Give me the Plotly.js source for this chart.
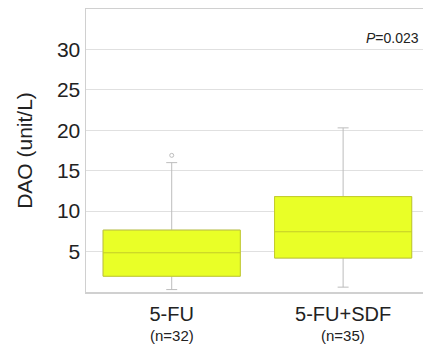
<!DOCTYPE html>
<html><head><meta charset="utf-8">
<script src="https://cdn.plot.ly/plotly-3.0.1.min.js"></script>
<style>html,body{margin:0;padding:0;background:#fff;}#c{width:423px;height:347px;}</style>
</head><body><div id="c"></div>
<script>
var groups = ['5-FU', '5-FU+SDF'];
var nLabels = ['(n=32)', '(n=35)'];
var lowerWhisker = [0.3, 0.6];
var q1 = [1.95, 4.2];
var median = [4.85, 7.45];
var q3 = [7.65, 11.8];
var upperWhisker = [16.0, 20.3];
var outlierGroup = ['5-FU'];
var outlierValue = [16.9];
var yTicks = [5, 10, 15, 20, 25, 30];

var whiskers = {
  type: 'box', x: groups, q1: q1, median: median, q3: q3,
  lowerfence: lowerWhisker, upperfence: upperWhisker,
  boxpoints: false, width: 0.8, whiskerwidth: 0.08,
  fillcolor: 'rgba(0,0,0,0)', line: {color: '#bdbdbd', width: 1},
  hoverinfo: 'skip', showlegend: false
};
var boxes = {
  type: 'box', x: groups, q1: q1, median: median, q3: q3,
  lowerfence: q1, upperfence: q3,
  boxpoints: false, width: 0.8, whiskerwidth: 0,
  fillcolor: '#e9ff27', line: {color: '#c3cc2a', width: 1},
  showlegend: false
};
var outliers = {
  type: 'scatter', mode: 'markers', x: outlierGroup, y: outlierValue,
  marker: {symbol: 'circle-open', size: 4, color: '#bdbdbd', line: {width: 1}},
  showlegend: false
};
var nAnnots = groups.map(function(g, i){
  return {xref: 'x', yref: 'paper', x: g, y: -0.152, xanchor: 'center', yanchor: 'middle',
    text: nLabels[i], showarrow: false, font: {size: 15, color: '#222'}};
});
var layout = {
  width: 423, height: 347,
  margin: {l: 86, r: 0, t: 9, b: 55},
  paper_bgcolor: '#fff', plot_bgcolor: '#fff',
  boxmode: 'overlay',
  font: {family: 'Liberation Sans, Arial, sans-serif', color: '#222'},
  xaxis: {
    type: 'category', range: [-0.5, 1.466],
    tickvals: groups, ticktext: groups,
    tickfont: {size: 20}, ticks: '', showgrid: false, ticklabelstandoff: 3,
    showline: true, linecolor: '#d0d0d0', linewidth: 1.5, mirror: true,
    zeroline: false
  },
  yaxis: {
    range: [0, 35], tickvals: yTicks, tickfont: {size: 21},
    ticks: '', ticklen: 0,
    showgrid: true, gridcolor: '#e0e0e0', gridwidth: 1,
    showline: true, linecolor: '#d0d0d0', linewidth: 1.5,
    zeroline: false,
    title: {text: 'DAO (unit/L)', font: {size: 21}, standoff: 18}
  },
  annotations: [{
    xref: 'paper', yref: 'paper', x: 0.995, y: 0.897, xanchor: 'right', yanchor: 'middle',
    text: '<i>P</i>=0.023', showarrow: false, font: {size: 14, color: '#222'}
  }].concat(nAnnots)
};
Plotly.newPlot('c', [whiskers, boxes, outliers], layout, {displayModeBar: false, staticPlot: true});
</script>
</body></html>
